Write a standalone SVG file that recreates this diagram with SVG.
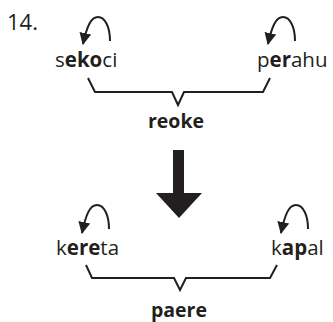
<svg xmlns="http://www.w3.org/2000/svg" width="333" height="322" viewBox="0 0 333 322">
<defs>
<style>
.t{font-family:"Open Sans","Noto Sans",sans-serif;font-size:20.5px;fill:#231f20}
.b{font-weight:bold}
.w{font-size:19.5px}
.loop{fill:none;stroke:#231f20;stroke-width:2}
.br{fill:none;stroke:#231f20;stroke-width:2;stroke-linejoin:miter}
</style>
<marker id="ah" markerUnits="userSpaceOnUse" markerWidth="13" markerHeight="12" refX="11" refY="6" orient="auto">
<path d="M0,0 L12,6 L0,12 z" fill="#231f20"/>
</marker>
</defs>
<rect width="333" height="322" fill="#fff"/>
<text x="7" y="30" class="t" style="font-size:22px">14.</text>
<g id="sekoci"><text x="55" y="67" class="t">s<tspan class="b">eko</tspan>ci</text></g>
<g id="perahu"><text x="257" y="67" class="t">p<tspan class="b">er</tspan>ahu</text></g>
<g id="reoke"><text x="176" y="128" class="t b w" text-anchor="middle">reoke</text></g>
<g id="kereta"><text x="56" y="255" class="t">k<tspan class="b">ere</tspan>ta</text></g>
<g id="kapal"><text x="271" y="255" class="t">k<tspan class="b">ap</tspan>al</text></g>
<g id="paere"><text x="179" y="317" class="t b w" text-anchor="middle">paere</text></g>
<g id="connectors">
<path class="loop" marker-end="url(#ah)" d="M110,41 C110,27 105,17 98,17 C91,17 87,26 83,44"/>
<path class="loop" marker-end="url(#ah)" d="M295,41 C295,27 290,17 283,17 C276,17 272,26 268,44"/>
<path class="loop" marker-end="url(#ah)" d="M109,229 C109,215 104,205 97,205 C90,205 86,214 82,233"/>
<path class="loop" marker-end="url(#ah)" d="M308,229 C308,215 303,205 296,205 C289,205 285,214 281,233"/>
<path class="br" d="M88,78 L95,92 L172,92 L178,105 L184,92 L263,92 L270,78"/>
<path class="br" d="M86,265 L92,278 L174,278 L180,290 L186,278 L270,278 L277,265"/>
<polygon points="173,150 184,150 184,193 202,193 179,218 156,193 173,193" fill="#231f20"/>
</g>
</svg>
